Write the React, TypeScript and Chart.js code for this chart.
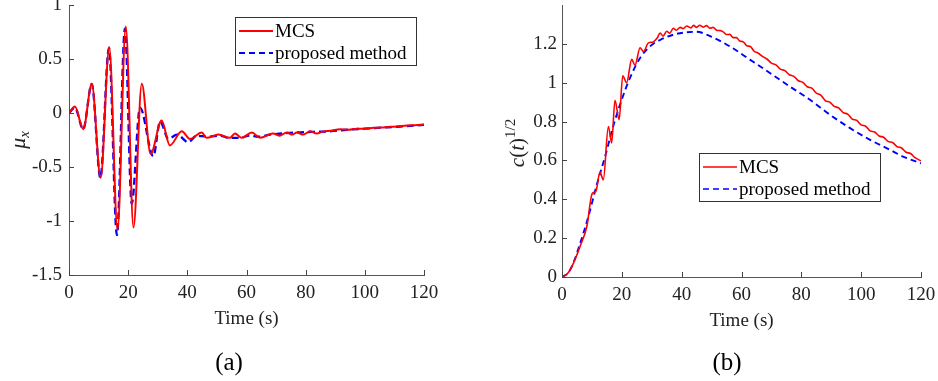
import React, { useEffect, useRef } from 'react';
import { Chart, registerables } from 'chart.js';

Chart.register(...registerables);

const SERIF = '"Liberation Serif", "Times New Roman", serif';

// ---------- (a) mu_x ----------
const mcsMuT = [0, 2, 4.8, 7.7, 10.7, 13.6, 16.4, 19.2, 21.8, 24.6, 27.6, 31.3, 34.1, 38.1, 40.9, 44.9, 46.5, 50.5, 54.4, 56.1, 58.4, 61.8, 64.6, 69, 71.3, 73.6, 75.5, 77, 79.2, 81.5, 83.7, 86, 88.5, 91.6, 94.5, 97.3, 100, 102.9, 105.5, 108.5, 111, 114.2, 117, 120];
const mcsMuV = [0, 0.06, -0.15, 0.27, -0.6, 0.61, -1.08, 0.8, -1.06, 0.27, -0.38, -0.07, -0.3, -0.17, -0.24, -0.18, -0.23, -0.2, -0.23, -0.19, -0.23, -0.18, -0.23, -0.19, -0.21, -0.18, -0.2, -0.18, -0.2, -0.17, -0.19, -0.17, -0.165, -0.15, -0.155, -0.146, -0.145, -0.137, -0.135, -0.128, -0.125, -0.116, -0.113, -0.107];
const propMuT = [0, 2, 4.8, 7.7, 10.6, 13.5, 16.2, 18.9, 21.2, 24.0, 28.5, 30.8, 33.6, 36.5, 40.3, 43.2, 47, 51, 54, 57.8, 61, 64, 68, 72, 77, 82, 88, 94, 100, 106, 112, 120];
const propMuV = [0, 0.05, -0.15, 0.27, -0.6, 0.6, -1.13, 0.78, -0.84, 0.05, -0.4, -0.08, -0.24, -0.2, -0.27, -0.21, -0.22, -0.21, -0.23, -0.23, -0.21, -0.22, -0.2, -0.19, -0.18, -0.175, -0.17, -0.155, -0.145, -0.135, -0.125, -0.11];

// ---------- (b) c(t)^{1/2} ----------
const mcsCT = [0, 2, 3.8, 6, 8.3, 10.1, 11.3, 12.7, 13.8, 15.5, 16.6, 17.7, 19.1, 20.3, 21.6, 23.3, 24.4, 26.1, 27.2, 28.9, 30.5, 31.8, 32.8, 33.8, 35, 36, 37.2, 38.2, 39.5, 40.5, 41.7, 43, 44, 45, 46, 47.2, 48.3, 49.5, 50.5, 51.7, 53, 54, 55, 56.1, 57.2, 58.3, 59.4, 60.6, 61.8, 63, 64.2, 65.5, 67, 68.5, 70, 71.5, 73, 74.5, 76, 77.5, 79, 80.5, 82, 83.5, 85, 86.5, 88, 89.5, 91, 92.5, 94, 95.5, 97, 98.5, 100, 101.5, 103, 104.5, 106, 107.5, 109, 110.5, 112, 113.5, 115, 116.5, 118, 120];
const mcsCV = [0, 0.02, 0.07, 0.156, 0.26, 0.43, 0.44, 0.54, 0.5, 0.775, 0.69, 0.91, 0.81, 1.036, 1.0, 1.12, 1.09, 1.18, 1.16, 1.205, 1.21, 1.23, 1.255, 1.24, 1.265, 1.255, 1.28, 1.27, 1.285, 1.278, 1.292, 1.282, 1.295, 1.285, 1.296, 1.286, 1.294, 1.28, 1.285, 1.27, 1.268, 1.26, 1.248, 1.249, 1.232, 1.232, 1.215, 1.21, 1.19, 1.186, 1.162, 1.153, 1.136, 1.122, 1.101, 1.092, 1.07, 1.062, 1.041, 1.033, 1.01, 1.002, 0.979, 0.972, 0.947, 0.936, 0.908, 0.9, 0.878, 0.87, 0.846, 0.838, 0.813, 0.806, 0.783, 0.776, 0.752, 0.746, 0.726, 0.719, 0.698, 0.692, 0.671, 0.664, 0.642, 0.636, 0.614, 0.598];
const propCT = [0, 2, 4, 6, 8.8, 11.6, 14.4, 17.1, 19.9, 22.7, 26.1, 29.4, 32.8, 37.2, 41.7, 45, 49.5, 56.1, 62.8, 69.5, 76.2, 82.9, 89.6, 96.3, 103, 109.6, 114, 120];
const propCV = [0, 0.02, 0.08, 0.17, 0.31, 0.474, 0.62, 0.775, 0.91, 1.024, 1.127, 1.187, 1.22, 1.247, 1.26, 1.262, 1.24, 1.187, 1.119, 1.05, 0.98, 0.912, 0.835, 0.766, 0.706, 0.655, 0.62, 0.585];

const xAxisTitle = 'Time (s)';
const seriesNames = ['MCS', 'proposed method'];

const pts = (t: number[], v: number[]) => t.map((x, i) => ({ x, y: v[i] }));

type Seg = { text: string; italic?: boolean; size: number; dy?: number };

function makeDecor(cfg: {
  legend: { x: number; y: number; w: number; h: number };
  yLabel: Seg[];
  yLabelPos: { x: number; y: number };
  caption: string;
  captionPos: { x: number; y: number };
  lineWidth: number;
}) {
  return {
    id: 'decor',
    afterDraw(chart: any) {
      const ctx: CanvasRenderingContext2D = chart.ctx;
      const { left, bottom } = chart.chartArea;
      const xs = chart.scales.x;
      const ys = chart.scales.y;
      ctx.save();
      // inward tick marks
      ctx.strokeStyle = '#444';
      ctx.lineWidth = 1;
      xs.ticks.forEach((t: any) => {
        const px = Math.round(xs.getPixelForValue(t.value)) + 0.5;
        ctx.beginPath();
        ctx.moveTo(px, bottom);
        ctx.lineTo(px, bottom - 5);
        ctx.stroke();
      });
      ys.ticks.forEach((t: any) => {
        if (t.label === '') return;
        const py = Math.round(ys.getPixelForValue(t.value)) + 0.5;
        ctx.beginPath();
        ctx.moveTo(left, py);
        ctx.lineTo(left + 5, py);
        ctx.stroke();
      });
      // y label (rotated, with sub/superscript)
      ctx.save();
      ctx.translate(cfg.yLabelPos.x, cfg.yLabelPos.y);
      ctx.rotate(-Math.PI / 2);
      ctx.fillStyle = '#222';
      ctx.textBaseline = 'alphabetic';
      ctx.textAlign = 'left';
      const fontOf = (s: Seg) => `${s.italic ? 'italic ' : ''}${s.size}px ${SERIF}`;
      let total = 0;
      cfg.yLabel.forEach((s) => { ctx.font = fontOf(s); total += ctx.measureText(s.text).width; });
      let cx = -total / 2;
      cfg.yLabel.forEach((s) => {
        ctx.font = fontOf(s);
        ctx.fillText(s.text, cx, 7 + (s.dy || 0));
        cx += ctx.measureText(s.text).width;
      });
      ctx.restore();
      // legend
      const L = cfg.legend;
      ctx.fillStyle = '#fff';
      ctx.fillRect(L.x, L.y, L.w, L.h);
      ctx.strokeStyle = '#333';
      ctx.lineWidth = 1;
      ctx.strokeRect(L.x + 0.5, L.y + 0.5, L.w, L.h);
      const rows = [L.y + 14, L.y + 36];
      const colors = ['#ff0000', '#0000ff'];
      rows.forEach((ry, i) => {
        ctx.beginPath();
        ctx.strokeStyle = colors[i];
        ctx.lineWidth = cfg.lineWidth;
        ctx.setLineDash(i === 1 ? [6, 4] : []);
        ctx.moveTo(L.x + 4, ry);
        ctx.lineTo(L.x + 38, ry);
        ctx.stroke();
        ctx.setLineDash([]);
        ctx.fillStyle = '#000';
        ctx.font = `19px ${SERIF}`;
        ctx.textBaseline = 'middle';
        ctx.textAlign = 'left';
        ctx.fillText(seriesNames[i], L.x + 40, ry + 1);
      });
      // caption
      ctx.fillStyle = '#000';
      ctx.font = `25px ${SERIF}`;
      ctx.textAlign = 'center';
      ctx.textBaseline = 'middle';
      ctx.fillText(cfg.caption, cfg.captionPos.x, cfg.captionPos.y);
      ctx.restore();
    },
  };
}

function buildConfig(opts: {
  mcs: { x: number; y: number }[];
  prop: { x: number; y: number }[];
  yMin: number; yMax: number; yStep: number; hideTop: boolean;
  yWidth: number; pad: { left: number; right: number; top: number; bottom: number };
  yPad: number; lineWidth: number; dash: number[];
  plugin: any;
}) {
  return {
    type: 'line' as const,
    data: {
      datasets: [
        { label: seriesNames[0], data: opts.mcs, borderColor: '#ff0000', borderWidth: opts.lineWidth, pointRadius: 0, cubicInterpolationMode: 'monotone' as const, fill: false },
        { label: seriesNames[1], data: opts.prop, borderColor: '#0000ff', borderWidth: opts.lineWidth + 0.3, borderDash: opts.dash, pointRadius: 0, cubicInterpolationMode: 'monotone' as const, fill: false },
      ],
    },
    options: {
      animation: false as const,
      responsive: false,
      layout: { padding: opts.pad },
      plugins: { legend: { display: false }, tooltip: { enabled: false }, title: { display: false } },
      scales: {
        x: {
          type: 'linear' as const,
          min: 0, max: 120,
          grid: { display: false, drawTicks: false },
          border: { display: true, color: '#555', width: 1 },
          ticks: { stepSize: 20, padding: 7, color: '#222', font: { family: SERIF, size: 19 }, maxRotation: 0 },
          title: { display: true, text: xAxisTitle, color: '#222', font: { family: SERIF, size: 19 }, padding: 0 },
          afterFit: (s: any) => { s.height = 55; s.paddingLeft = 0; s.paddingRight = 0; },
        },
        y: {
          type: 'linear' as const,
          min: opts.yMin, max: opts.yMax,
          grid: { display: false, drawTicks: false },
          border: { display: true, color: '#555', width: 1 },
          ticks: {
            stepSize: opts.yStep, padding: opts.yPad, color: '#222', font: { family: SERIF, size: 19 },
            callback: (v: any) => (opts.hideTop && Number(v) > opts.yMax - 1e-6 ? '' : String(Math.round(Number(v) * 10) / 10)),
          },
          afterFit: (s: any) => { s.width = opts.yWidth; s.paddingTop = 0; s.paddingBottom = 0; },
        },
      },
    },
    plugins: [opts.plugin],
  };
}

function ChartCanvas({ config, left }: { config: () => any; left: number }) {
  const ref = useRef<HTMLCanvasElement | null>(null);
  useEffect(() => {
    if (!ref.current) return;
    const chart = new Chart(ref.current, config());
    return () => chart.destroy();
  }, []);
  return (
    <canvas ref={ref} width={469} height={381} style={{ position: 'absolute', left, top: 0, width: 469, height: 381 }} />
  );
}

export default function App() {
  const cfgA = () =>
    buildConfig({
      mcs: pts(mcsMuT, mcsMuV),
      prop: pts(propMuT, propMuV),
      yMin: -1.5, yMax: 1, yStep: 0.5, hideTop: false,
      yWidth: 69,
      pad: { left: 0, right: 45, top: 5, bottom: 51 },
      yPad: 7, lineWidth: 2, dash: [7, 4],
      plugin: makeDecor({
        legend: { x: 235, y: 17, w: 181, h: 48 },
        yLabel: [
          { text: 'μ', italic: true, size: 22 },
          { text: 'x', italic: true, size: 15, dy: 4 },
        ],
        yLabelPos: { x: 18, y: 140 },
        caption: '(a)',
        captionPos: { x: 229, y: 363 },
        lineWidth: 2,
      }),
    });
  const cfgB = () =>
    buildConfig({
      mcs: pts(mcsCT, mcsCV),
      prop: pts(propCT, propCV),
      yMin: 0, yMax: 1.4, yStep: 0.2, hideTop: true,
      yWidth: 93,
      pad: { left: 0, right: 17, top: 5, bottom: 49 },
      yPad: 5, lineWidth: 1.6, dash: [6, 4],
      plugin: makeDecor({
        legend: { x: 230, y: 153, w: 181, h: 48 },
        yLabel: [
          { text: 'c', italic: true, size: 21 },
          { text: '(', size: 21 },
          { text: 't', italic: true, size: 21 },
          { text: ')', size: 21 },
          { text: '1/2', size: 15, dy: -9 },
        ],
        yLabelPos: { x: 48, y: 143 },
        caption: '(b)',
        captionPos: { x: 258, y: 363 },
        lineWidth: 1.6,
      }),
    });
  return (
    <div style={{ position: 'absolute', left: 0, top: 0, width: 938, height: 381, background: '#fff' }}>
      <ChartCanvas config={cfgA} left={0} />
      <ChartCanvas config={cfgB} left={469} />
    </div>
  );
}
